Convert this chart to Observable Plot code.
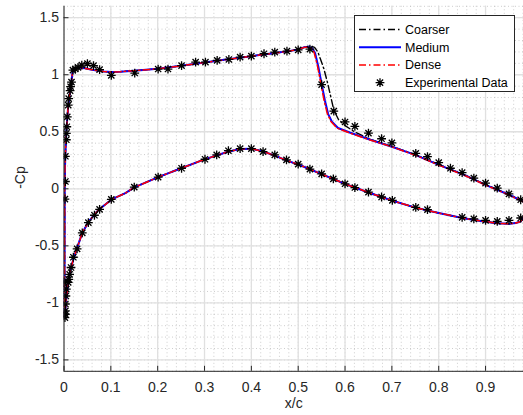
<!DOCTYPE html>
<html><head><meta charset="utf-8">
<script src="https://cdn.jsdelivr.net/npm/d3@7"></script>
<script src="https://cdn.jsdelivr.net/npm/@observablehq/plot@0.6"></script>
<style>
body{margin:0;background:#fff;}
#wrap{position:relative;width:523px;height:415px;overflow:hidden;}
#legend{position:absolute;left:354px;top:15px;width:159px;height:75px;border:1px solid #262626;background:#fff;}
#legend text{font:12.5px "Liberation Sans",Arial,sans-serif;fill:#000;}
</style></head><body><div id="wrap"><div id="legend"></div></div>
<script>
// ---- tick labels ----
const xTicks = [0, 0.1, 0.2, 0.3, 0.4, 0.5, 0.6, 0.7, 0.8, 0.9];
const xTickLabels = ["0", "0.1", "0.2", "0.3", "0.4", "0.5", "0.6", "0.7", "0.8", "0.9"];
const yTicks = [-1.5, -1, -0.5, 0, 0.5, 1, 1.5];
const yTickLabels = ["-1.5", "-1", "-0.5", "0", "0.5", "1", "1.5"];
const seriesNames = ["Coarser", "Medium", "Dense", "Experimental Data"];

// ---- Coarser ----
const coarserUpperX = [0.0012, 0.0012, 0.0015, 0.002, 0.003, 0.005, 0.009, 0.014, 0.019, 0.025, 0.035, 0.045, 0.057, 0.07, 0.085, 0.1, 0.12, 0.15, 0.2, 0.25, 0.3, 0.35, 0.4, 0.45, 0.48, 0.5, 0.515, 0.527, 0.535, 0.542, 0.549, 0.555, 0.562, 0.568, 0.576, 0.587, 0.601, 0.62, 0.654, 0.7, 0.75, 0.8, 0.854, 0.9, 0.95, 0.981];
const coarserUpperY = [-1.13, -0.8, 0.0, 0.18, 0.3, 0.5, 0.73, 0.88, 1.045, 1.058, 1.062, 1.056, 1.046, 1.036, 1.028, 1.024, 1.027, 1.036, 1.052, 1.078, 1.107, 1.135, 1.163, 1.19, 1.207, 1.222, 1.242, 1.25, 1.24, 1.2, 1.12, 1.05, 0.94, 0.835, 0.69, 0.6, 0.552, 0.5, 0.432, 0.372, 0.3, 0.213, 0.125, 0.037, -0.05, -0.11];
const coarserLowerX = [0.0012, 0.003, 0.005, 0.008, 0.011, 0.014, 0.021, 0.028, 0.039, 0.053, 0.074, 0.103, 0.131, 0.15, 0.2, 0.25, 0.3, 0.35, 0.377, 0.4, 0.425, 0.45, 0.476, 0.503, 0.55, 0.6, 0.65, 0.7, 0.75, 0.8, 0.85, 0.9, 0.925, 0.95, 0.965, 0.975, 0.981];
const coarserLowerY = [-1.13, -1.05, -0.96, -0.86, -0.77, -0.707, -0.605, -0.518, -0.387, -0.285, -0.183, -0.09, -0.038, 0.012, 0.1, 0.18, 0.258, 0.325, 0.35, 0.352, 0.328, 0.291, 0.247, 0.209, 0.128, 0.043, -0.032, -0.103, -0.165, -0.212, -0.256, -0.288, -0.303, -0.307, -0.3, -0.286, -0.25];

// ---- Medium ----
const mediumUpperX = [0.0012, 0.0012, 0.0015, 0.002, 0.003, 0.005, 0.009, 0.014, 0.019, 0.025, 0.035, 0.045, 0.057, 0.07, 0.085, 0.1, 0.12, 0.15, 0.2, 0.25, 0.3, 0.35, 0.4, 0.45, 0.48, 0.5, 0.512, 0.522, 0.53, 0.536, 0.543, 0.55, 0.557, 0.564, 0.572, 0.585, 0.61, 0.654, 0.7, 0.75, 0.8, 0.854, 0.9, 0.95, 0.981];
const mediumUpperY = [-1.13, -0.8, 0.0, 0.18, 0.3, 0.5, 0.73, 0.88, 1.045, 1.058, 1.062, 1.056, 1.046, 1.036, 1.028, 1.024, 1.027, 1.036, 1.052, 1.078, 1.107, 1.135, 1.163, 1.19, 1.207, 1.222, 1.24, 1.245, 1.232, 1.19, 1.07, 0.92, 0.775, 0.655, 0.588, 0.533, 0.494, 0.43, 0.369, 0.297, 0.21, 0.122, 0.035, -0.052, -0.113];
const mediumLowerX = [0.0012, 0.003, 0.005, 0.008, 0.011, 0.014, 0.021, 0.028, 0.039, 0.053, 0.074, 0.103, 0.131, 0.15, 0.2, 0.25, 0.3, 0.35, 0.377, 0.4, 0.425, 0.45, 0.476, 0.503, 0.55, 0.6, 0.65, 0.7, 0.75, 0.8, 0.85, 0.9, 0.925, 0.95, 0.965, 0.975, 0.981];
const mediumLowerY = [-1.13, -1.05, -0.96, -0.86, -0.77, -0.707, -0.605, -0.518, -0.387, -0.285, -0.183, -0.09, -0.038, 0.012, 0.1, 0.18, 0.258, 0.325, 0.35, 0.352, 0.328, 0.291, 0.247, 0.209, 0.128, 0.043, -0.032, -0.103, -0.165, -0.212, -0.256, -0.288, -0.303, -0.307, -0.3, -0.286, -0.25];

// ---- Dense ----
const denseUpperX = [0.0012, 0.0012, 0.0015, 0.002, 0.003, 0.005, 0.009, 0.014, 0.019, 0.025, 0.035, 0.045, 0.057, 0.07, 0.085, 0.1, 0.12, 0.15, 0.2, 0.25, 0.3, 0.35, 0.4, 0.45, 0.48, 0.5, 0.511, 0.52, 0.528, 0.534, 0.541, 0.548, 0.555, 0.562, 0.57, 0.583, 0.608, 0.652, 0.7, 0.75, 0.8, 0.854, 0.9, 0.95, 0.981];
const denseUpperY = [-1.13, -0.8, 0.0, 0.18, 0.3, 0.5, 0.73, 0.88, 1.045, 1.058, 1.062, 1.056, 1.046, 1.036, 1.028, 1.024, 1.027, 1.036, 1.052, 1.078, 1.107, 1.135, 1.163, 1.19, 1.207, 1.222, 1.238, 1.244, 1.235, 1.195, 1.08, 0.93, 0.78, 0.66, 0.59, 0.532, 0.492, 0.43, 0.368, 0.295, 0.208, 0.12, 0.033, -0.054, -0.115];
const denseLowerX = [0.0012, 0.003, 0.005, 0.008, 0.011, 0.014, 0.021, 0.028, 0.039, 0.053, 0.074, 0.103, 0.131, 0.15, 0.2, 0.25, 0.3, 0.35, 0.377, 0.4, 0.425, 0.45, 0.476, 0.503, 0.55, 0.6, 0.65, 0.7, 0.75, 0.8, 0.85, 0.9, 0.925, 0.95, 0.965, 0.975, 0.981];
const denseLowerY = [-1.13, -1.05, -0.96, -0.86, -0.77, -0.707, -0.605, -0.518, -0.387, -0.285, -0.183, -0.09, -0.038, 0.012, 0.1, 0.18, 0.258, 0.325, 0.35, 0.352, 0.328, 0.291, 0.247, 0.209, 0.128, 0.043, -0.032, -0.103, -0.165, -0.212, -0.256, -0.288, -0.303, -0.307, -0.3, -0.286, -0.25];

// ---- Experimental data ----
const expUpperX = [0.002, 0.003, 0.003, 0.005, 0.005, 0.006, 0.007, 0.009, 0.010, 0.013, 0.014, 0.016, 0.019, 0.024, 0.030, 0.038, 0.050, 0.063, 0.076, 0.101, 0.151, 0.201, 0.222, 0.251, 0.281, 0.302, 0.327, 0.352, 0.376, 0.400, 0.427, 0.450, 0.476, 0.500, 0.525, 0.550, 0.576, 0.600, 0.621, 0.650, 0.678, 0.700, 0.751, 0.776, 0.800, 0.825, 0.850, 0.875, 0.900, 0.925, 0.950, 0.975];
const expUpperY = [-0.09, 0.064, 0.285, 0.43, 0.486, 0.544, 0.63, 0.733, 0.79, 0.86, 0.895, 0.935, 1.04, 1.05, 1.065, 1.085, 1.098, 1.08, 1.045, 0.995, 1.015, 1.05, 1.05, 1.08, 1.11, 1.111, 1.126, 1.134, 1.154, 1.163, 1.184, 1.198, 1.207, 1.218, 1.225, 0.913, 0.681, 0.586, 0.547, 0.488, 0.439, 0.403, 0.311, 0.282, 0.23, 0.18, 0.142, 0.093, 0.05, 0.006, -0.044, -0.096];
const expLowerX = [0.002, 0.003, 0.003, 0.003, 0.004, 0.005, 0.0, 0.009, 0.010, 0.012, 0.015, 0.020, 0.028, 0.039, 0.052, 0.065, 0.076, 0.101, 0.150, 0.201, 0.251, 0.301, 0.326, 0.351, 0.376, 0.400, 0.425, 0.450, 0.475, 0.500, 0.525, 0.550, 0.575, 0.600, 0.621, 0.650, 0.678, 0.701, 0.751, 0.776, 0.850, 0.875, 0.900, 0.925, 0.950, 0.975];
const expLowerY = [-1.13, -1.10, -1.07, -1.01, -0.94, -0.88, -0.817, -0.82, -0.794, -0.75, -0.69, -0.60, -0.527, -0.387, -0.297, -0.232, -0.18, -0.093, 0.015, 0.102, 0.18, 0.259, 0.297, 0.334, 0.352, 0.352, 0.326, 0.297, 0.253, 0.216, 0.172, 0.131, 0.087, 0.044, 0.011, -0.029, -0.072, -0.102, -0.163, -0.183, -0.25, -0.264, -0.277, -0.285, -0.277, -0.256];

// ---- build tables ----
const zip = (xs, ys) => xs.map((x, i) => ({x, y: ys[i]}));
const loop = (ux, uy, lx, ly) => zip(ux, uy).reverse().concat(zip(lx, ly));
const coarser = loop(coarserUpperX, coarserUpperY, coarserLowerX, coarserLowerY);
const medium = loop(mediumUpperX, mediumUpperY, mediumLowerX, mediumLowerY);
const dense = loop(denseUpperX, denseUpperY, denseLowerX, denseLowerY);
const experimental = zip(expUpperX, expUpperY).concat(zip(expLowerX, expLowerY));

const xDomain = [0, 0.981];
const yDomain = [-1.6, 1.6];
const xMinor = d3.range(0, 0.981, 0.02);
const yMinor = d3.range(-16, 17).map(k => k / 10);

const star = {
  draw(context, size) {
    const r = Math.sqrt(size / Math.PI);
    const d = r * Math.SQRT1_2;
    context.moveTo(-r, 0); context.lineTo(r, 0);
    context.moveTo(0, -r); context.lineTo(0, r);
    context.moveTo(-d, -d); context.lineTo(d, d);
    context.moveTo(-d, d); context.lineTo(d, -d);
  }
};
const dashDot = "7,3,1.5,3";

const chart = Plot.plot({
  width: 523,
  height: 415,
  marginLeft: 63.5,
  marginRight: 0,
  marginTop: 5.8,
  marginBottom: 44.2,
  style: {fontFamily: "'Liberation Sans', Arial, sans-serif", fontSize: "14px", color: "#262626", background: "#fff"},
  x: {domain: xDomain},
  y: {domain: yDomain},
  marks: [
    Plot.ruleX(xMinor, {stroke: "#b8b8b8", strokeWidth: 0.7, strokeDasharray: "1,2.5"}),
    Plot.ruleY(yMinor, {stroke: "#b8b8b8", strokeWidth: 0.7, strokeDasharray: "1,2.5"}),
    Plot.ruleX(xTicks, {stroke: "#e0e0e0", strokeWidth: 1.3}),
    Plot.ruleY(yTicks, {stroke: "#e0e0e0", strokeWidth: 1.3}),
    Plot.line(coarser, {x: "x", y: "y", stroke: "#000", strokeWidth: 1.4, strokeDasharray: dashDot, clip: true}),
    Plot.line(medium, {x: "x", y: "y", stroke: "#0000ff", strokeWidth: 2, clip: true}),
    Plot.line(dense, {x: "x", y: "y", stroke: "#ff0000", strokeWidth: 1.5, strokeDasharray: dashDot, clip: true}),
    Plot.dot(experimental, {x: "x", y: "y", symbol: star, r: 4.4, stroke: "#000", strokeWidth: 1.3, fill: "none", clip: true}),
    Plot.ruleX([xDomain[0]], {stroke: "#262626", strokeWidth: 1}),
    Plot.ruleY([yDomain[0]], {stroke: "#262626", strokeWidth: 1}),
    Plot.axisX({ticks: xTicks, tickFormat: d => xTickLabels[xTicks.indexOf(d)], tickSize: -5, tickPadding: 16, label: null}),
    Plot.axisY({ticks: yTicks, tickFormat: d => yTickLabels[yTicks.indexOf(d)], tickSize: -5, tickPadding: 10, label: null}),
    Plot.text(["x/c"], {frameAnchor: "bottom", dy: 36.5, fontSize: 14, fill: "#262626"}),
    Plot.text(["-Cp"], {frameAnchor: "left", rotate: -90, dx: -43.5, fontSize: 14, fill: "#262626"})
  ]
});
const wrap = document.getElementById("wrap");
wrap.insertBefore(chart, wrap.firstChild);

// ---- legend ----
const legend = d3.select("#legend").append("svg").attr("width", 159).attr("height", 75);
const rowsY = [13.5, 31.2, 48.9, 66.6];
const styles = [
  {stroke: "#000", width: 1.4, dash: dashDot},
  {stroke: "#0000ff", width: 2, dash: null},
  {stroke: "#ff0000", width: 1.5, dash: dashDot},
  null
];
seriesNames.forEach((name, i) => {
  const g = legend.append("g").attr("transform", `translate(0,${rowsY[i]})`);
  const s = styles[i];
  if (s) {
    g.append("line").attr("x1", 4).attr("x2", 46).attr("y1", 0).attr("y2", 0)
      .attr("stroke", s.stroke).attr("stroke-width", s.width).attr("stroke-dasharray", s.dash);
  } else {
    g.append("path").attr("transform", "translate(25,0)")
      .attr("d", d3.symbol(star, 4.4 * 4.4 * Math.PI)())
      .attr("stroke", "#000").attr("fill", "none").attr("stroke-width", 1.3);
  }
  g.append("text").attr("x", 50).attr("y", 0).attr("dy", "0.35em").text(name);
});
</script></body></html>
